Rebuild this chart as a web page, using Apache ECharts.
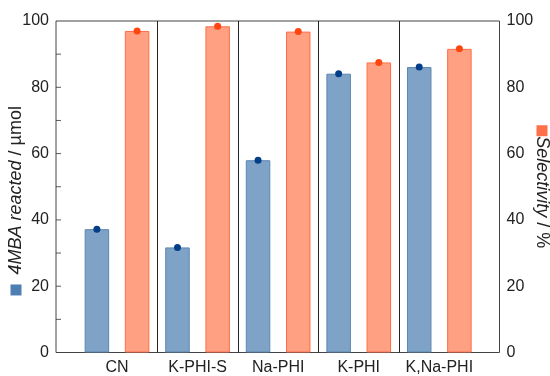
<!DOCTYPE html>
<html>
<head>
<meta charset="utf-8">
<script src="https://cdn.jsdelivr.net/npm/echarts@6/dist/echarts.min.js"></script>
<style>
  html, body { margin: 0; padding: 0; background: #fff; }
  #chart { width: 550px; height: 376px; }
</style>
</head>
<body>
<div id="chart"></div>
<script>
// Samples on the x axis
const categories = ['CN', 'K-PHI-S', 'Na-PHI', 'K-PHI', 'K,Na-PHI'];
// Amount of 4MBA reacted (µmol), left axis
const reacted = [37.2, 31.7, 58.0, 84.1, 86.1];
// Selectivity (%), right axis
const selectivity = [97.0, 98.4, 96.8, 87.5, 91.6];
// Shared value range for both y axes (labels every 20)
const yMin = 0;
const yMax = 100;
const yStep = 20;
// Inward tick marks on the left edge
const leftTicks = [10, 20, 30, 40, 50, 60, 70, 80, 90];

const FONT = '"Liberation Sans", Arial, Helvetica, sans-serif';
const BLUE_FILL = '#7fa3c6';
const BLUE_EDGE = '#5a86b2';
const BLUE_DOT = '#033f88';
const ORANGE_FILL = '#ffa083';
const ORANGE_EDGE = '#ff6f48';
const ORANGE_DOT = '#ff4510';

const chart = echarts.init(document.getElementById('chart'), null, { renderer: 'canvas' });

const gridTop = 21, gridBottom = 23.5;

function topDots(values, color) {
  return {
    symbol: 'circle',
    symbolSize: 7,
    silent: true,
    label: { show: false },
    itemStyle: { color: color },
    data: values.map((v, i) => ({ coord: [i, v] }))
  };
}

chart.setOption({
  animation: false,
  textStyle: { fontFamily: FONT },
  grid: [
    // outer frame carrying both value axes
    { left: 56, right: 50.5, top: gridTop, bottom: gridBottom, show: true,
      outerBoundsMode: 'none', containLabel: false,
      borderColor: '#444', borderWidth: 1, backgroundColor: 'transparent' },
    // inner band holding the sample categories
    { left: 76.7, right: 70.4, top: gridTop, bottom: gridBottom,
      outerBoundsMode: 'none', containLabel: false }
  ],
  xAxis: [
    { gridIndex: 0, type: 'value', min: 0, max: 1, show: false },
    {
      gridIndex: 1,
      type: 'category',
      data: categories,
      boundaryGap: true,
      axisLine: { show: false },
      axisTick: { show: false },
      axisLabel: { color: '#222', fontSize: 16, margin: 7, interval: 0, fontFamily: FONT },
      splitLine: {
        show: true,
        interval: 0,
        showMinLine: false,
        showMaxLine: false,
        lineStyle: { color: '#222', width: 1 }
      }
    }
  ],
  yAxis: [
    {
      gridIndex: 0,
      type: 'value',
      min: yMin, max: yMax, interval: yStep,
      position: 'left',
      name: '{sq|}  {it|4MBA reacted} / µmol',
      nameLocation: 'middle',
      nameRotate: 90,
      nameGap: 31,
      nameMoveOverlap: false,
      nameTextStyle: {
        fontSize: 18, color: '#222', fontFamily: FONT,
        padding: [0, 28, 0, 0],
        rich: {
          sq: { width: 11, height: 11, backgroundColor: '#4f7fb2' },
          it: { fontStyle: 'italic', fontSize: 18, color: '#222', fontFamily: FONT }
        }
      },
      axisLine: { show: false },
      axisTick: { show: false },
      axisLabel: { color: '#222', fontSize: 16, margin: 7, fontFamily: FONT },
      splitLine: { show: false }
    },
    {
      gridIndex: 0,
      type: 'value',
      min: yMin, max: yMax, interval: yStep,
      position: 'right',
      name: '{sq|}{it|Selectivity} / %',
      nameLocation: 'middle',
      nameRotate: -90,
      nameGap: 33.5,
      nameMoveOverlap: false,
      nameTextStyle: {
        fontSize: 18, color: '#222', fontFamily: FONT,
        rich: {
          sq: { width: 11, height: 11, backgroundColor: '#ff6f4a' },
          it: { fontStyle: 'italic', fontSize: 18, color: '#222', fontFamily: FONT }
        }
      },
      axisLine: { show: false },
      axisTick: { show: false },
      axisLabel: { color: '#222', fontSize: 16, margin: 7, fontFamily: FONT },
      splitLine: { show: false }
    },
    { gridIndex: 1, type: 'value', min: yMin, max: yMax, interval: yStep, show: false }
  ],
  series: [
    {
      name: '4MBA reacted',
      type: 'bar',
      xAxisIndex: 1,
      yAxisIndex: 2,
      data: reacted,
      barWidth: 24.5,
      barGap: '64%',
      itemStyle: { color: BLUE_FILL, borderColor: BLUE_EDGE, borderWidth: 1 },
      markPoint: topDots(reacted, BLUE_DOT)
    },
    {
      name: 'Selectivity',
      type: 'bar',
      xAxisIndex: 1,
      yAxisIndex: 2,
      data: selectivity,
      barWidth: 24.5,
      barGap: '64%',
      itemStyle: { color: ORANGE_FILL, borderColor: ORANGE_EDGE, borderWidth: 1 },
      markPoint: topDots(selectivity, ORANGE_DOT)
    },
    {
      // short inward ticks hugging the left frame edge
      name: 'ticks',
      type: 'scatter',
      xAxisIndex: 0,
      yAxisIndex: 0,
      data: leftTicks.map(v => [0, v]),
      symbol: 'rect',
      symbolSize: [5, 1],
      symbolOffset: [2.5, 0],
      clip: false,
      silent: true,
      itemStyle: { color: '#333' },
      z: 5
    }
  ]
});
</script>
</body>
</html>
